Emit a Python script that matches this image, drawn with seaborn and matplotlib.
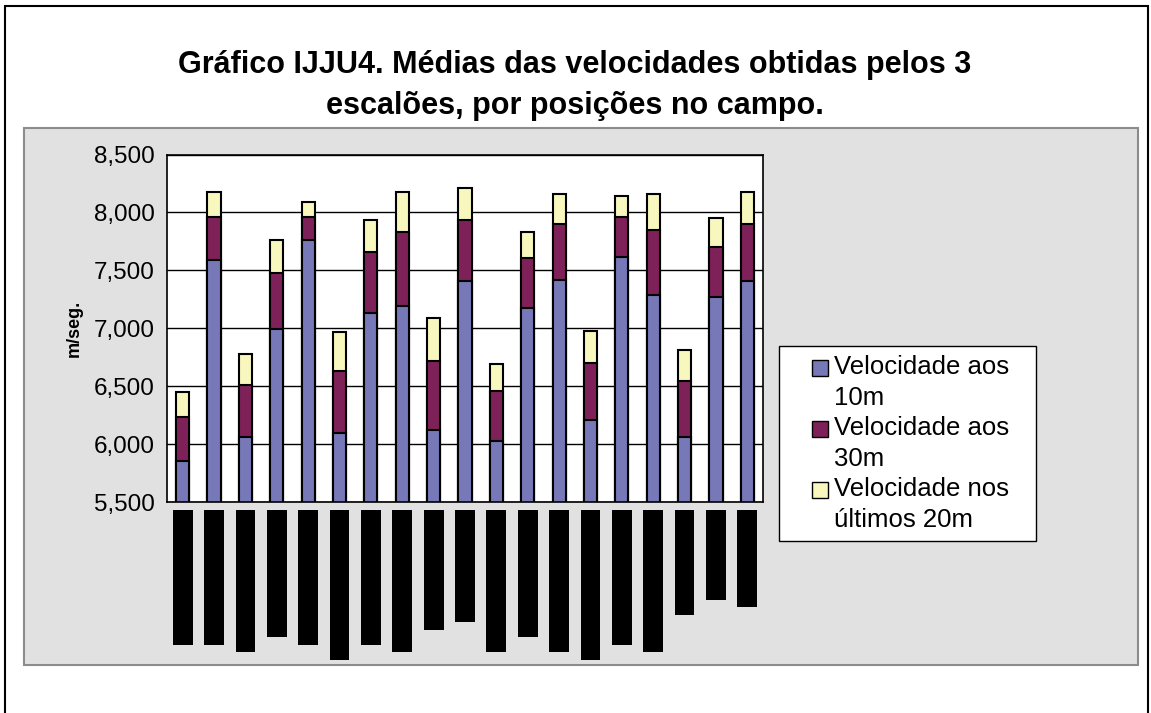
import numpy as np
import pandas as pd
import matplotlib.pyplot as plt
import seaborn as sns
from matplotlib.patches import Patch, Rectangle
from matplotlib.legend_handler import HandlerPatch
from matplotlib.ticker import FuncFormatter

# ---------------------------
# Data
# ---------------------------
# position labels (hidden behind black boxes in the original)
posicoes = [
    "Guarda-redes Inf.", "Defesa central I.", "Defesa lateral Inf",
    "Médio centro Inf", "Médio ofensivo I.", "Ponta de lança Inf.",
    "Extremos Infantis", "Guarda-redes Inic.", "Defesa cent Ini",
    "Laterais Inic.", "Médio defens. Ini.", "Médio centro Jun",
    "Ponta de lança Jun", "Guarda-redes Juven.", "Defesa central J.",
    "Defesa lateral Jun", "Médio Juvenis", "Extremo Jun", "Avançado Jun",
]
vel_10m = [5858, 7588, 6062, 6995, 7758, 6100, 7133, 7188, 6120, 7409,
           6028, 7171, 7413, 6205, 7617, 7288, 6062, 7271, 7407]
vel_30m = [377, 374, 447, 483, 204, 532, 522, 639, 596, 524,
           432, 432, 483, 499, 345, 557, 483, 432, 489]
vel_20m = [213, 213, 267, 280, 124, 332, 276, 346, 370, 274,
           230, 224, 262, 273, 179, 313, 266, 245, 277]

series_names = ["Velocidade aos\n10m", "Velocidade aos\n30m", "Velocidade nos\núltimos 20m"]
cores = ["#7678B8", "#7E2159", "#F8F7BE"]

sns.set_style("white")
plt.rcParams["font.family"] = ["Liberation Sans", "DejaVu Sans"]
plt.rcParams["text.color"] = "black"
plt.rcParams["axes.labelcolor"] = "black"
plt.rcParams["xtick.color"] = "black"
plt.rcParams["ytick.color"] = "black"

df = pd.DataFrame({"pos": posicoes, "v10": vel_10m, "v30": vel_30m, "v20": vel_20m})
df["top30"] = df["v10"] + df["v30"]
df["total"] = df["top30"] + df["v20"]

fig = plt.figure(figsize=(11.51, 7.13), dpi=100)

# outer frame and grey chart area (behind the axes)
fig.patches.append(Rectangle((0.0043, -0.02), 0.9931, 1.0116, transform=fig.transFigure,
                             fill=False, ec="black", lw=1.5, zorder=-10))
fig.patches.append(Rectangle((0.0209, 0.0673), 0.9679, 0.7532, transform=fig.transFigure,
                             fc="#E1E1E1", ec="#8C8C8C", lw=1.5, zorder=-9))

ax = fig.add_axes([0.1451, 0.2959, 0.5178, 0.4874])
ax.set_facecolor("white")

# stacked bars: draw cumulative totals back to front
for col, c in zip(["total", "top30", "v10"], cores[::-1]):
    sns.barplot(data=df, x="pos", y=col, color=c, saturation=1, width=0.42,
                edgecolor="black", linewidth=1.5, errorbar=None, ax=ax)

ax.set_ylim(5500, 8500)
ax.set_xlim(-0.5, len(posicoes) - 0.5)
ax.set_yticks(np.arange(5500, 8501, 500))
ax.yaxis.set_major_formatter(FuncFormatter(lambda v, p: f"{int(v):,}"))
ax.yaxis.grid(True, color="black", lw=1)
ax.set_axisbelow(True)
for s in ax.spines.values():
    s.set_color("black")
    s.set_linewidth(1.2)

ax.tick_params(axis="y", labelsize=17.5, length=7, width=1, color="black", pad=2, direction="out")
ax.set_xticks(np.arange(-0.5, len(posicoes), 1), minor=True)
ax.tick_params(axis="x", which="minor", length=6, width=1, color="#404040", direction="out")
ax.tick_params(axis="x", which="major", length=0, pad=8.5)
ax.set_xticks(range(len(posicoes)))
ax.set_xticklabels(posicoes, rotation=90, fontsize=9, family="DejaVu Sans Mono", color="black")
for lbl in ax.get_xticklabels():
    lbl.set_bbox(dict(fc="black", ec="none", pad=2.4))

ax.set_xlabel("")
ax.set_ylabel("m/seg.", fontsize=13, fontweight="bold", labelpad=8)

fig.text(0.4996, 1 - 114 / 713,
         "Gráfico IJJU4. Médias das velocidades obtidas pelos 3\nescalões, por posições no campo.",
         ha="center", va="baseline", fontsize=22, fontweight="bold", linespacing=1.48)


# legend square sits next to the first line of each label
def square_top(legend, orig_handle, xdescent, ydescent, width, height, fontsize):
    return Rectangle((-xdescent + width - height, -ydescent + 10.8), height, height)


handles = [Patch(fc=c, ec="black", lw=1) for c in cores]
leg = fig.legend(handles, series_names, loc="upper left",
                 bbox_to_anchor=(779 / 1151, 1 - 346 / 713 - 0.1, 257 / 1151, 0.1),
                 mode="expand", fontsize=18.5, frameon=True, fancybox=False,
                 edgecolor="black", framealpha=1, borderpad=0.35, labelspacing=0.24,
                 handlelength=1.55, handleheight=0.58, handletextpad=0.25,
                 borderaxespad=0,
                 handler_map={Patch: HandlerPatch(patch_func=square_top)})
leg.get_frame().set_linewidth(1)
for t in leg.get_texts():
    t.set_linespacing(1.36)

fig.savefig("out.png", dpi=100)
